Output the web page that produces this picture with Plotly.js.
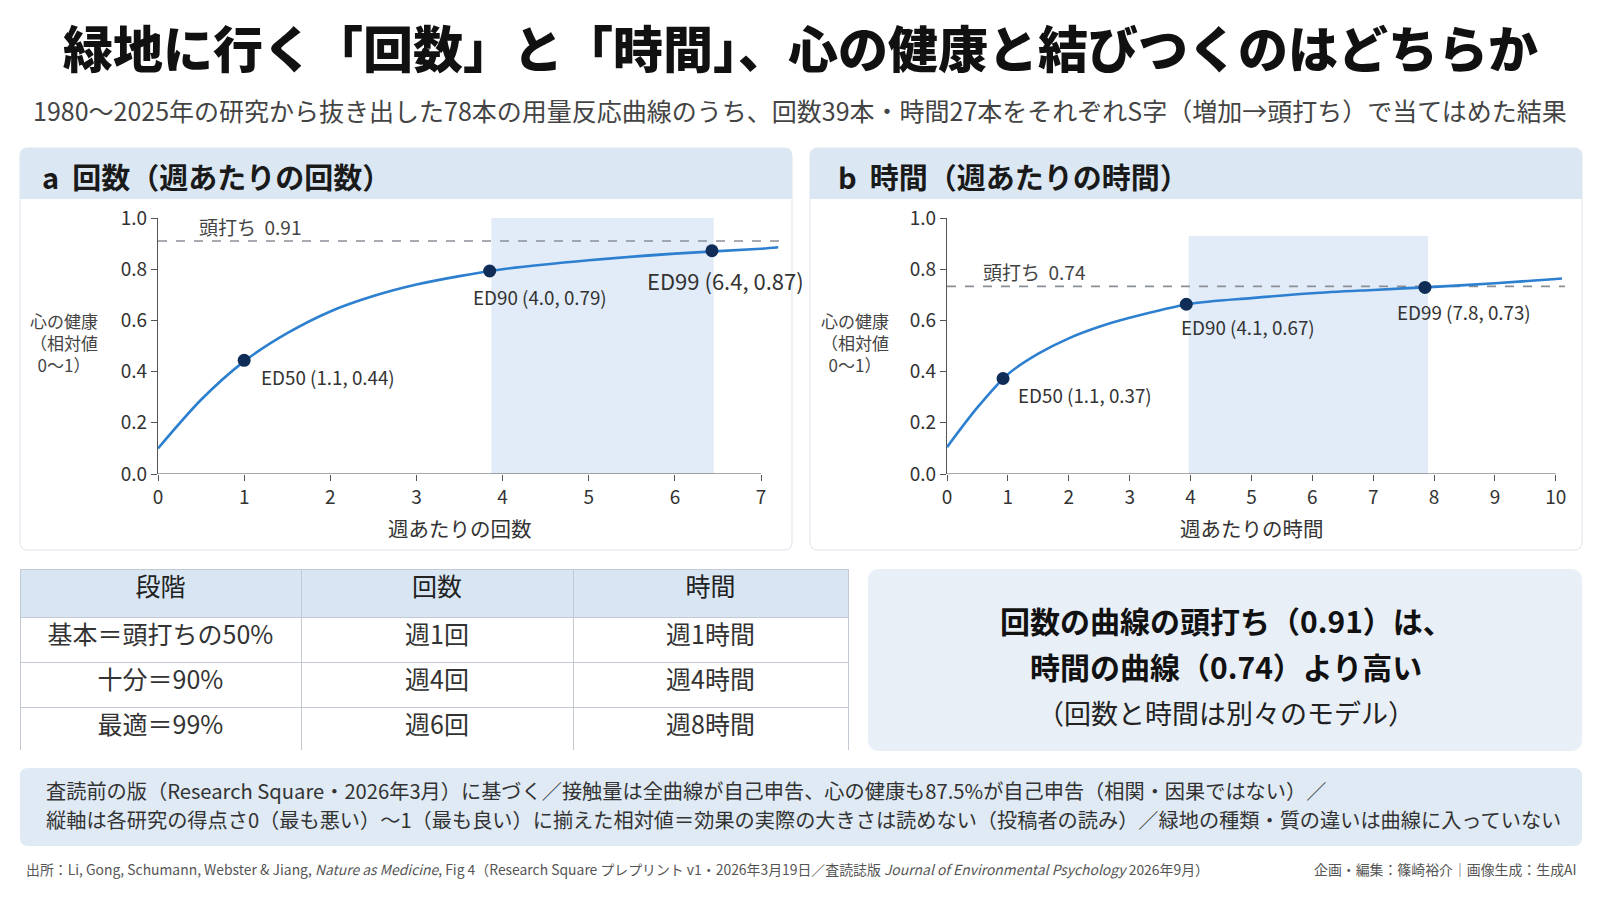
<!DOCTYPE html>
<html>
<head>
<meta charset="utf-8">
<script src="https://cdn.plot.ly/plotly-3.0.1.min.js"></script>
<style>
  html, body { margin: 0; padding: 0; background: #fff; }
  #chart { width: 1600px; height: 900px; }
</style>
</head>
<body>
<div id="chart"></div>
<script>
// panel a: visits per week
const freqX = [0, 0.5, 1, 1.5, 2, 2.5, 3, 3.5, 4, 5, 6, 7, 7.2];
const freqY = [0.10, 0.29, 0.44, 0.55, 0.635, 0.695, 0.74, 0.773, 0.80, 0.835, 0.861, 0.88, 0.886];
const freqEdX = [1.0, 3.85, 6.43];
const freqEdY = [0.444, 0.793, 0.872];
const freqEdText = ['ED50 (1.1, 0.44)', 'ED90 (4.0, 0.79)', 'ED99 (6.4, 0.87)'];
const freqPlateau = 0.91;
const freqBand = [3.87, 6.45];

// panel b: hours per week
const timeX = [0, 0.5, 1, 1.5, 2, 2.5, 3, 4, 5, 6, 7, 8, 9, 10, 10.1];
const timeY = [0.105, 0.26, 0.39, 0.47, 0.53, 0.575, 0.61, 0.665, 0.687, 0.706, 0.719, 0.731, 0.745, 0.762, 0.764];
const timeEdX = [0.92, 3.93, 7.85];
const timeEdY = [0.373, 0.663, 0.729];
const timeEdText = ['ED50 (1.1, 0.37)', 'ED90 (4.1, 0.67)', 'ED99 (7.8, 0.73)'];
const timePlateau = 0.733;
const timeBand = [3.97, 7.9];

// table
const tableHead = ['段階', '回数', '時間'];
const stageLabels = ['基本＝頭打ちの50%', '十分＝90%', '最適＝99%'];
const freqStage = ['週1回', '週4回', '週6回'];
const timeStage = ['週1時間', '週4時間', '週8時間'];

const W = 1600, H = 900;
const FONT = '"Noto Sans CJK JP", "Noto Sans", sans-serif';
const px = v => v / W;
const py = v => 1 - v / H;

function roundBox(x0, y0, x1, y1, r, fill, lineColor) {
  const path = 'M ' + px(x0 + r) + ' ' + py(y0) +
    ' L ' + px(x1 - r) + ' ' + py(y0) + ' Q ' + px(x1) + ' ' + py(y0) + ' ' + px(x1) + ' ' + py(y0 + r) +
    ' L ' + px(x1) + ' ' + py(y1 - r) + ' Q ' + px(x1) + ' ' + py(y1) + ' ' + px(x1 - r) + ' ' + py(y1) +
    ' L ' + px(x0 + r) + ' ' + py(y1) + ' Q ' + px(x0) + ' ' + py(y1) + ' ' + px(x0) + ' ' + py(y1 - r) +
    ' L ' + px(x0) + ' ' + py(y0 + r) + ' Q ' + px(x0) + ' ' + py(y0) + ' ' + px(x0 + r) + ' ' + py(y0) + ' Z';
  return {
    type: 'path', xref: 'paper', yref: 'paper', path: path, layer: 'below',
    fillcolor: fill, line: lineColor ? { color: lineColor, width: 1 } : { width: 0 }
  };
}
function rect(x0, y0, x1, y1, fill) {
  return { type: 'rect', xref: 'paper', yref: 'paper', layer: 'below',
    x0: px(x0), x1: px(x1), y0: py(y1), y1: py(y0), fillcolor: fill, line: { width: 0 } };
}
function txt(x, y, text, size, opts) {
  return Object.assign({
    xref: 'paper', yref: 'paper', x: px(x), y: py(y), text: text, showarrow: false,
    xanchor: 'center', yanchor: 'middle',
    font: { family: FONT, size: size, color: '#333' }
  }, opts || {});
}

const CURVE = '#2d7fcf';
const DOT = '#0f2d57';

function panelTraces(xs, ys, edX, edY, plateau, xmax, xa, ya) {
  return [
    { x: [0, xmax], y: [plateau, plateau], xaxis: xa, yaxis: ya, mode: 'lines',
      line: { color: '#8a8f96', width: 1.6, dash: 'dash' }, hoverinfo: 'skip' },
    { x: xs, y: ys, xaxis: xa, yaxis: ya, mode: 'lines',
      line: { color: CURVE, width: 2.6, shape: 'spline', smoothing: 0.8 } },
    { x: edX, y: edY, xaxis: xa, yaxis: ya, mode: 'markers',
      marker: { color: DOT, size: 13 } }
  ];
}

const data = []
  .concat(panelTraces(freqX, freqY, freqEdX, freqEdY, freqPlateau, 7.22, 'x', 'y'))
  .concat(panelTraces(timeX, timeY, timeEdX, timeEdY, timePlateau, 10.15, 'x2', 'y2'));

data.push({
  type: 'table',
  domain: { x: [px(20), px(848)], y: [py(751), py(569)] },
  columnwidth: [281, 272, 275],
  header: {
    values: tableHead, align: 'center', height: 48,
    fill: { color: '#d8e6f3' }, line: { color: '#c3cad3', width: 1 },
    font: { family: FONT, size: 25, color: '#222' }
  },
  cells: {
    values: [stageLabels, freqStage, timeStage], align: 'center', height: 45,
    fill: { color: '#ffffff' }, line: { color: '#c3cad3', width: 1 },
    font: { family: FONT, size: 25, color: '#333' }
  }
});

const tickFont = { family: FONT, size: 19, color: '#333' };
function xAxis(dom, range, tickvals) {
  return { domain: dom, range: range, tickvals: tickvals, ticks: 'outside', ticklen: 6,
    tickcolor: '#555', showline: false, showgrid: false, zeroline: false,
    tickfont: tickFont, fixedrange: true };
}
function yAxis(anchor) {
  return { domain: [py(474), py(218)], range: [0, 1.0], anchor: anchor, dtick: 0.2, tickformat: '.1f',
    ticks: 'outside', ticklen: 6, tickcolor: '#555', showline: true, linecolor: '#555', linewidth: 1.2,
    showgrid: false, zeroline: false, tickfont: tickFont, fixedrange: true };
}

const shapes = [
  // panel frames
  roundBox(20, 148, 792, 550, 8, '#ffffff', '#dde3ea'),
  roundBox(20, 148, 792, 199, 8, '#dbe8f4'),
  rect(20, 185, 792, 199, '#dbe8f4'),
  roundBox(810, 148, 1582, 550, 8, '#ffffff', '#dde3ea'),
  roundBox(810, 148, 1582, 199, 8, '#dbe8f4'),
  rect(810, 185, 1582, 199, '#dbe8f4'),
  // summary box and note box
  roundBox(868, 569, 1582, 751, 12, '#e8eff7'),
  roundBox(20, 768, 1582, 846, 8, '#dfeaf5'),
  // highlighted ranges
  { type: 'rect', xref: 'x', yref: 'y', layer: 'below', x0: freqBand[0], x1: freqBand[1], y0: 0, y1: 1.0,
    fillcolor: '#e2ecf8', line: { width: 0 } },
  { type: 'rect', xref: 'x2', yref: 'y2', layer: 'below', x0: timeBand[0], x1: timeBand[1], y0: 0, y1: 0.93,
    fillcolor: '#e2ecf8', line: { width: 0 } },
  // x axis lines
  { type: 'line', xref: 'x', yref: 'y', x0: 0, x1: 7, y0: 0, y1: 0, line: { color: '#555', width: 1.2 } },
  { type: 'line', xref: 'x2', yref: 'y2', x0: 0, x1: 10, y0: 0, y1: 0, line: { color: '#555', width: 1.2 } }
];

const annotations = [
  txt(800, 46, '緑地に行く「回数」と「時間」、心の健康と結びつくのはどちらか', 50,
    { font: { family: FONT, size: 50, color: '#111', weight: 900 } }),
  txt(800, 110, '1980〜2025年の研究から抜き出した78本の用量反応曲線のうち、回数39本・時間27本をそれぞれS字（増加→頭打ち）で当てはめた結果', 25,
    { font: { family: FONT, size: 25, color: '#444' } }),
  txt(40, 176, 'a  回数（週あたりの回数）', 29,
    { xanchor: 'left', font: { family: FONT, size: 29, color: '#1a1a1a', weight: 700 } }),
  txt(836, 176, 'b  時間（週あたりの時間）', 29,
    { xanchor: 'left', font: { family: FONT, size: 29, color: '#1a1a1a', weight: 700 } }),
  txt(64, 342, '心の健康<br>（相対値<br>0〜1）', 17, { font: { family: FONT, size: 17, color: '#444' } }),
  txt(855, 342, '心の健康<br>（相対値<br>0〜1）', 17, { font: { family: FONT, size: 17, color: '#444' } }),
  txt(460, 528, '週あたりの回数', 20.5, { font: { family: FONT, size: 20.5, color: '#333' } }),
  txt(1252, 528, '週あたりの時間', 20.5, { font: { family: FONT, size: 20.5, color: '#333' } }),
  txt(1226, 620, '回数の曲線の頭打ち（0.91）は、', 30,
    { font: { family: FONT, size: 30, color: '#111', weight: 700 } }),
  txt(1226, 666, '時間の曲線（0.74）より高い', 30,
    { font: { family: FONT, size: 30, color: '#111', weight: 700 } }),
  txt(1226, 712, '（回数と時間は別々のモデル）', 27,
    { font: { family: FONT, size: 27, color: '#222' } }),
  txt(44, 790, '査読前の版（Research Square・2026年3月）に基づく／接触量は全曲線が自己申告、心の健康も87.5%が自己申告（相関・因果ではない）／', 20.2,
    { xanchor: 'left', font: { family: FONT, size: 20.2, color: '#333' } }),
  txt(44, 819, '縦軸は各研究の得点さ0（最も悪い）〜1（最も良い）に揃えた相対値＝効果の実際の大きさは読めない（投稿者の読み）／緑地の種類・質の違いは曲線に入っていない', 20.2,
    { xanchor: 'left', font: { family: FONT, size: 20.2, color: '#333' } }),
  txt(24, 869, '出所：Li, Gong, Schumann, Webster & Jiang, <i>Nature as Medicine</i>, Fig 4（Research Square プレプリント v1・2026年3月19日／査読誌版 <i>Journal of Environmental Psychology</i> 2026年9月）', 13.9,
    { xanchor: 'left', font: { family: FONT, size: 13.9, color: '#555' } }),
  txt(1579, 869, '企画・編集：篠崎裕介｜画像生成：生成AI', 13.9,
    { xanchor: 'right', font: { family: FONT, size: 13.9, color: '#555' } })
];

// plateau labels
annotations.push({ xref: 'x', yref: 'y', x: 0.45, y: freqPlateau, yshift: 15, xanchor: 'left', showarrow: false,
  text: '頭打ち  ' + freqPlateau.toFixed(2), font: { family: FONT, size: 19, color: '#444' } });
annotations.push({ xref: 'x2', yref: 'y2', x: 0.56, y: timePlateau, yshift: 15, xanchor: 'left', showarrow: false,
  text: '頭打ち  0.74', font: { family: FONT, size: 19, color: '#444' } });

// ED point labels
const freqShift = [[15, -16, 18.8], [-19, -26, 18.8], [-67, -29, 22]];
const timeShift = [[13, -16, 18.8], [-7, -22, 18.8], [-30, -24, 18.8]];
freqEdText.forEach((t, i) => annotations.push({
  xref: 'x', yref: 'y', x: freqEdX[i], y: freqEdY[i], xshift: freqShift[i][0], yshift: freqShift[i][1],
  xanchor: 'left', showarrow: false, text: t, font: { family: FONT, size: freqShift[i][2], color: '#333' }
}));
timeEdText.forEach((t, i) => annotations.push({
  xref: 'x2', yref: 'y2', x: timeEdX[i], y: timeEdY[i], xshift: timeShift[i][0], yshift: timeShift[i][1],
  xanchor: 'left', showarrow: false, text: t, font: { family: FONT, size: timeShift[i][2], color: '#333' }
}));

const layout = {
  width: W, height: H,
  margin: { l: 0, r: 0, t: 0, b: 0 },
  paper_bgcolor: '#ffffff',
  plot_bgcolor: 'rgba(0,0,0,0)',
  showlegend: false,
  font: { family: FONT },
  xaxis: Object.assign(xAxis([px(158), px(780)], [0, 7.22], [0, 1, 2, 3, 4, 5, 6, 7]), { anchor: 'y' }),
  yaxis: yAxis('x'),
  xaxis2: Object.assign(xAxis([px(947), px(1565)], [0, 10.15], [0, 1, 2, 3, 4, 5, 6, 7, 8, 9, 10]), { anchor: 'y2' }),
  yaxis2: yAxis('x2'),
  shapes: shapes,
  annotations: annotations
};

Plotly.newPlot(document.getElementById('chart'), data, layout, { displayModeBar: false, staticPlot: true });
</script>
</body>
</html>
